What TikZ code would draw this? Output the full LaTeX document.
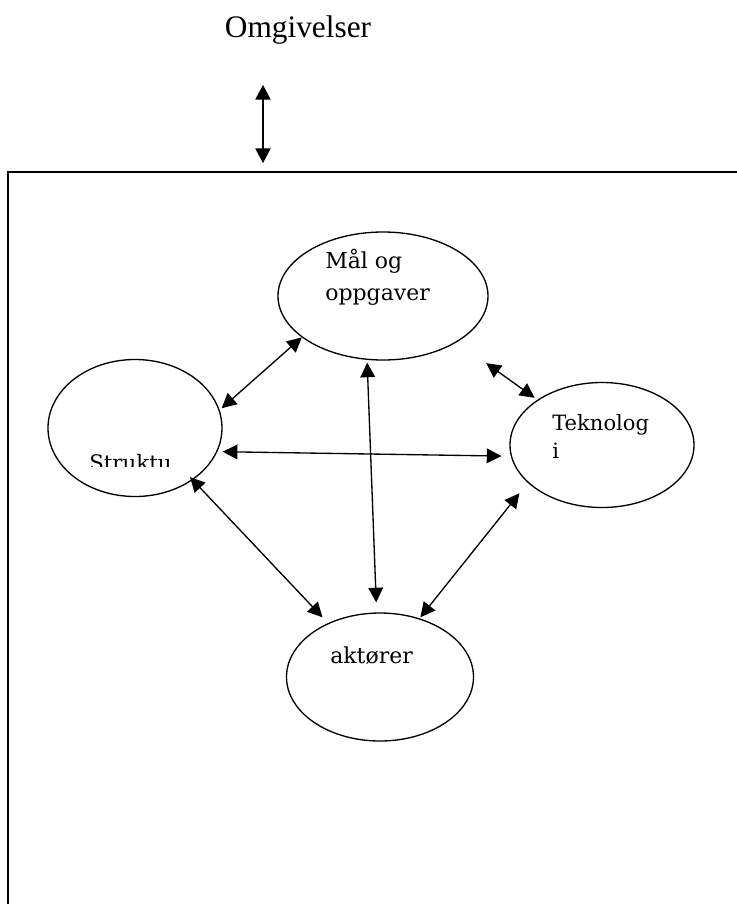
\documentclass[tikz,border=0pt]{standalone}
\usepackage{fontspec}
\setmainfont{Liberation Serif}
\newfontfamily\ovalfont{DejaVu Serif}
\usetikzlibrary{shapes.geometric, arrows.meta}

\begin{document}
\begin{tikzpicture}[x=0.75pt, y=-0.75pt,
    oval/.style={draw, ellipse, line width=1pt, inner sep=0pt},
    ovaltext/.style={font=\ovalfont\fontsize{16.5}{24}\selectfont, inner sep=0pt, anchor=base west, align=left},
    link/.style={line width=1pt, {Triangle[length=11pt,width=11pt]}-{Triangle[length=11pt,width=11pt]}}]
  \useasboundingbox (0,0) rectangle (737,904);

  % the organisation, cut off at the page edge
  \draw[line width=1.2pt] (737,172) -- (8,172) -- (8,904);

  \node[font=\fontsize{23.5}{28}\selectfont, inner sep=0pt, anchor=base] (omg) at (298,37) {Omgivelser};
  \coordinate (omgtop) at (263,85);
  \coordinate (orgtop) at (263,163);
  \draw[line width=1pt, {Triangle[length=11pt,width=11.5pt]}-{Triangle[length=11pt,width=11.5pt]}] (omgtop) -- (orgtop);

  % the four parts (sizes in pt)
  \node[oval, minimum width=157.5pt, minimum height=96pt] (mal) at (383,296) {};
  \node[oval, minimum width=130.5pt, minimum height=102.75pt] (strukt) at (135,428) {};
  \node[oval, minimum width=138pt, minimum height=93.75pt] (tekn) at (602,445) {};
  \node[oval, minimum width=140.25pt, minimum height=96pt] (akt) at (380,677) {};

  % base anchor sits on the last line
  \node[ovaltext] (maltxt) at (325,300) {Mål og\\oppgaver};
  \node[ovaltext, font=\ovalfont\fontsize{15.8}{21}\selectfont] (tekntxt) at (552,458) {Teknolog\\i};
  \node[ovaltext] (akttxt) at (330,663) {aktører};
  \begin{scope}
    \clip (0,0) rectangle (737,466);
    \node[ovaltext, font=\ovalfont\fontsize{16}{24}\selectfont] (strukttxt) at (89,470) {Struktu};
  \end{scope}

  % connections
  \draw[link, shorten >=2pt] (mal.207) -- (strukt.12);
  \draw[link, shorten <=2pt, shorten >=7.5pt] (mal.256) -- (akt.93);
  \draw[link, shorten <=27pt, shorten >=2.5pt] (mal.328) -- (tekn.145);
  \draw[link, shorten <=4pt, shorten >=7pt] (strukt.344) -- (tekn.187);
  \draw[link, shorten <=-3pt, shorten >=6pt] (strukt.318) -- (akt.134);
  \draw[link, shorten <=10pt, shorten >=1pt] (tekn.207) -- (akt.56);
\end{tikzpicture}
\end{document}
